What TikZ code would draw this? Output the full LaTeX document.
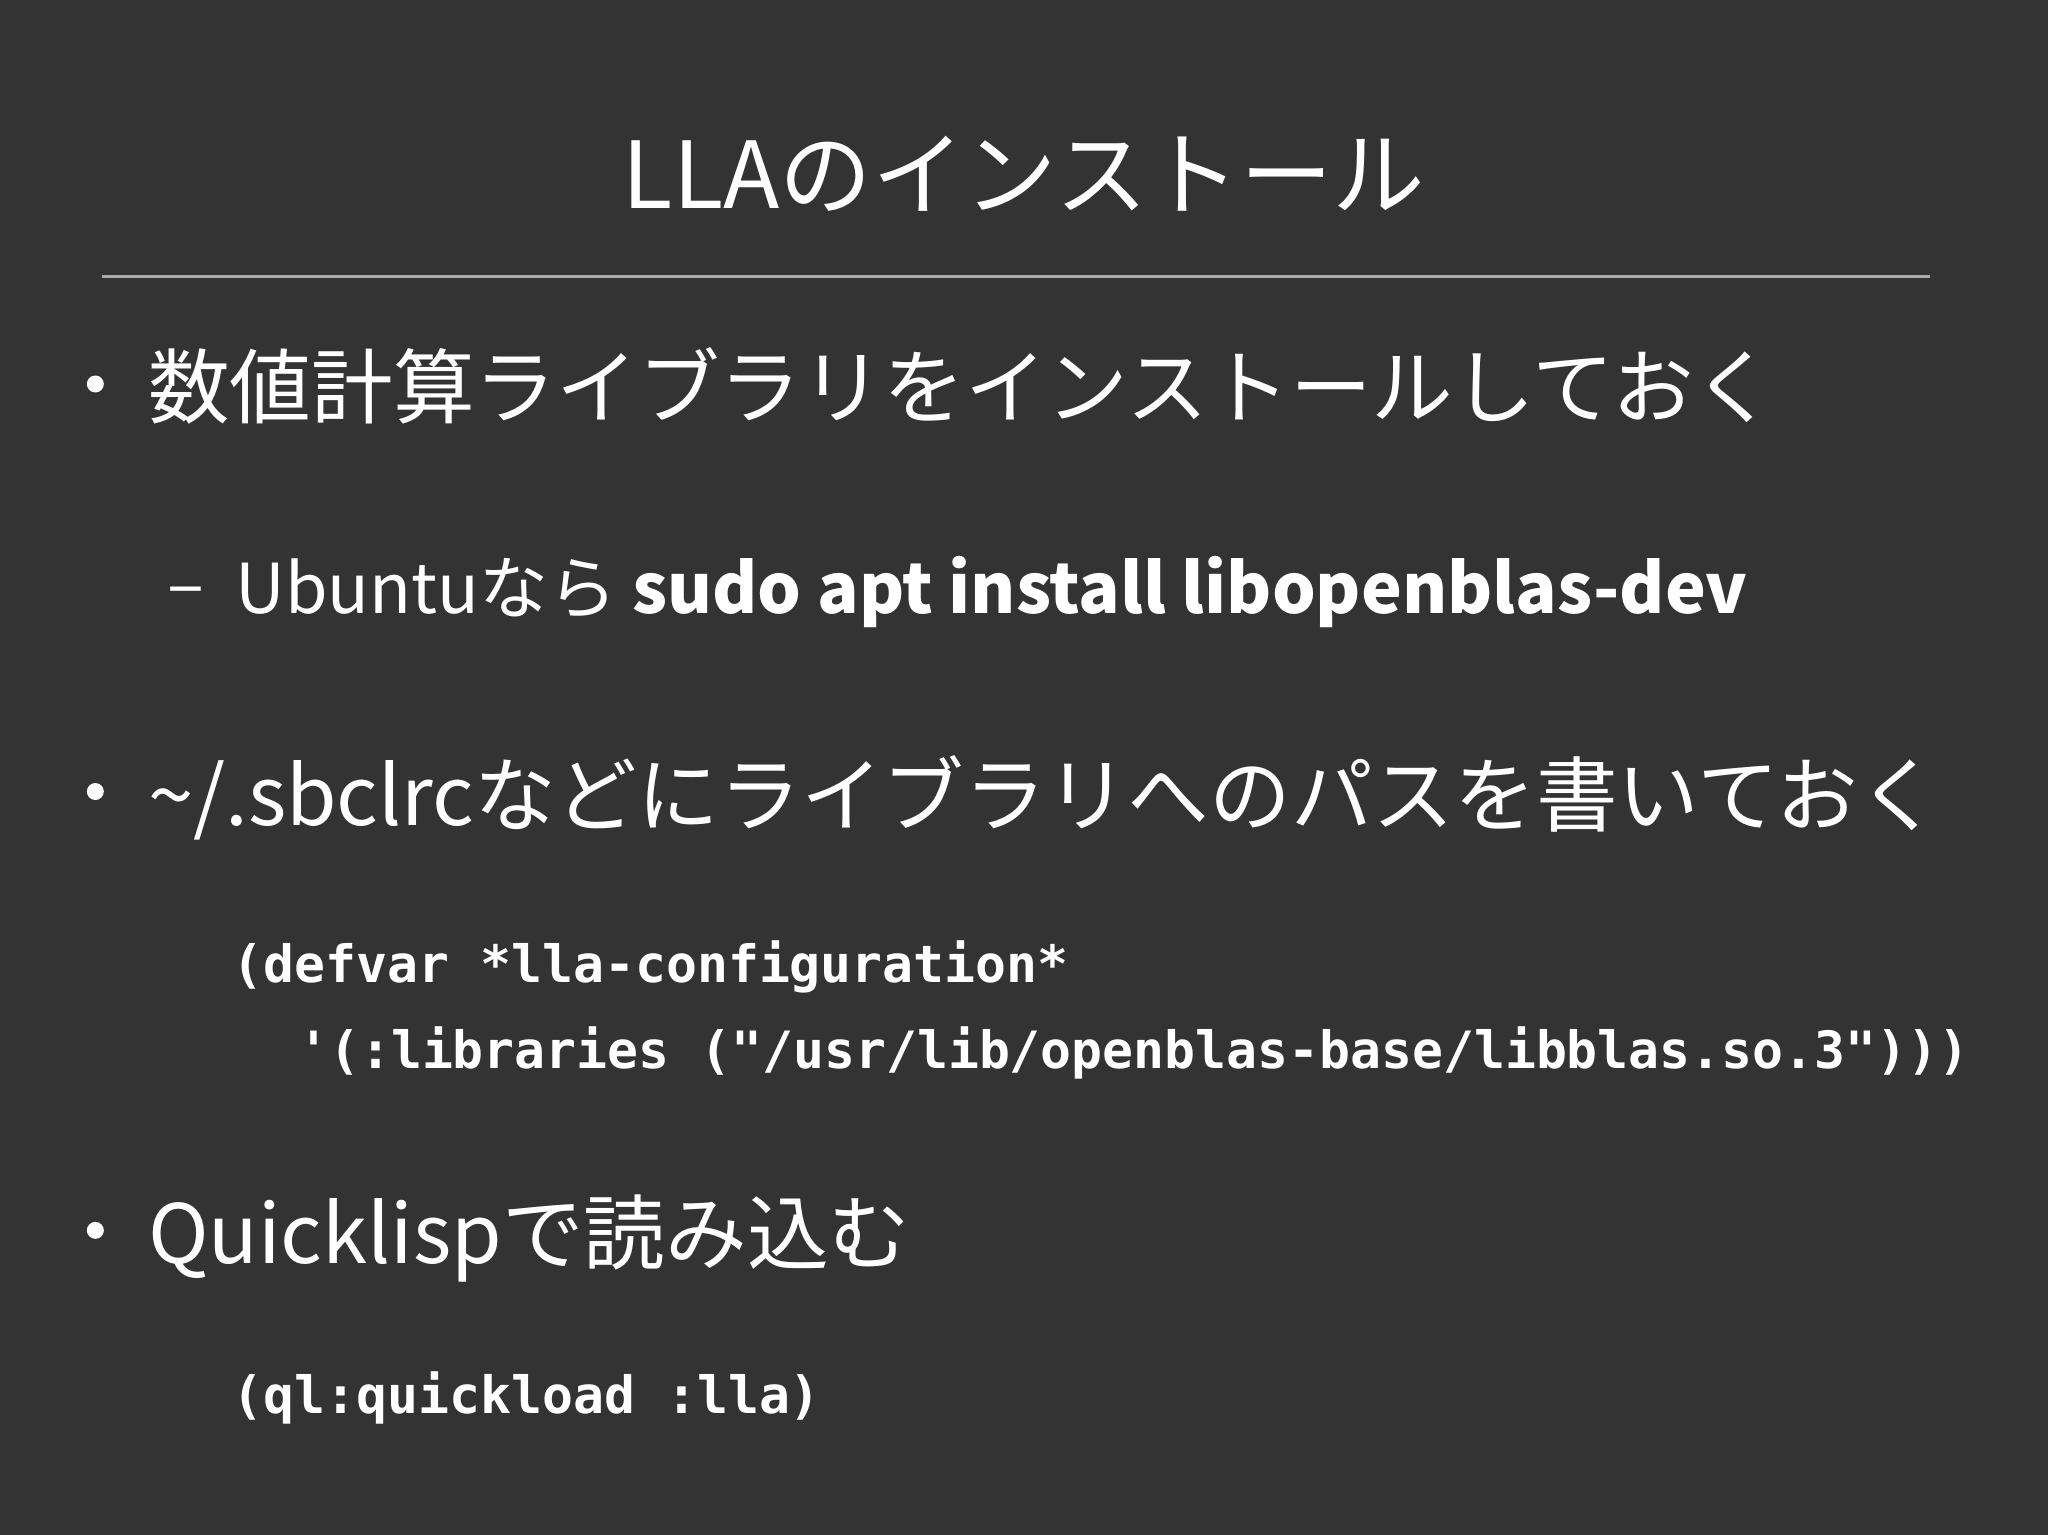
\documentclass[tikz,border=0pt]{standalone}
\usepackage{fontspec}
\setmainfont{Noto Sans CJK JP}
\newfontfamily\codef{DejaVu Sans Mono}
\definecolor{bg}{HTML}{333333}
\definecolor{fg}{HTML}{FFFFFF}
\definecolor{rule}{HTML}{AAAAAA}
\begin{document}
\begin{tikzpicture}[x=0.02cm,y=-0.02cm,
  txt/.style={anchor=base west,inner sep=0,text=fg,font=\fontsize{35.6}{40}\selectfont},
  sub/.style={anchor=base west,inner sep=0,text=fg,font=\fontsize{30}{36}\selectfont},
  code/.style={anchor=base west,inner sep=0,text=fg,font=\codef\bfseries\fontsize{22.4}{26}\selectfont},
  dot/.style={circle,fill=fg,inner sep=0,minimum size=0.26cm}]
\fill[bg] (0,0) rectangle (1568,1175);
\useasboundingbox (0,0) rectangle (1568,1175);
\node[anchor=base,inner sep=0,text=fg,font=\fontsize{40.3}{46}\selectfont] (title) at (784,160) {LLAのインストール};
\coordinate (l1) at (78,212); \coordinate (l2) at (1478,212);
\draw[rule,line width=1.4pt] (l1) -- (l2);
\node[dot] (b1) at (73,294) {};
\node[txt] (t1) at (113,320) {数値計算ライブラリをインストールしておく};
\node[sub] (dash1) at (128,466) {–};
\node[sub] (t2) at (180,470) {Ubuntuなら \textbf{sudo apt install libopenblas-dev}};
\node[dot] (b2) at (73,606) {};
\node[txt] (t3) at (113,632) {\textasciitilde/.sbclrcなどにライブラリへのパスを書いておく};
\node[code] (c1) at (178,752) {(defvar *lla-configuration*};
\node[code] (c2) at (228,818) {'(:libraries ("/usr/lib/openblas-base/libblas.so.3")))};
\node[dot] (b3) at (73,942) {};
\node[txt] (t4) at (113,967) {Quicklispで読み込む};
\node[code] (c3) at (178,1082) {(ql:quickload :lla)};
\end{tikzpicture}
\end{document}
